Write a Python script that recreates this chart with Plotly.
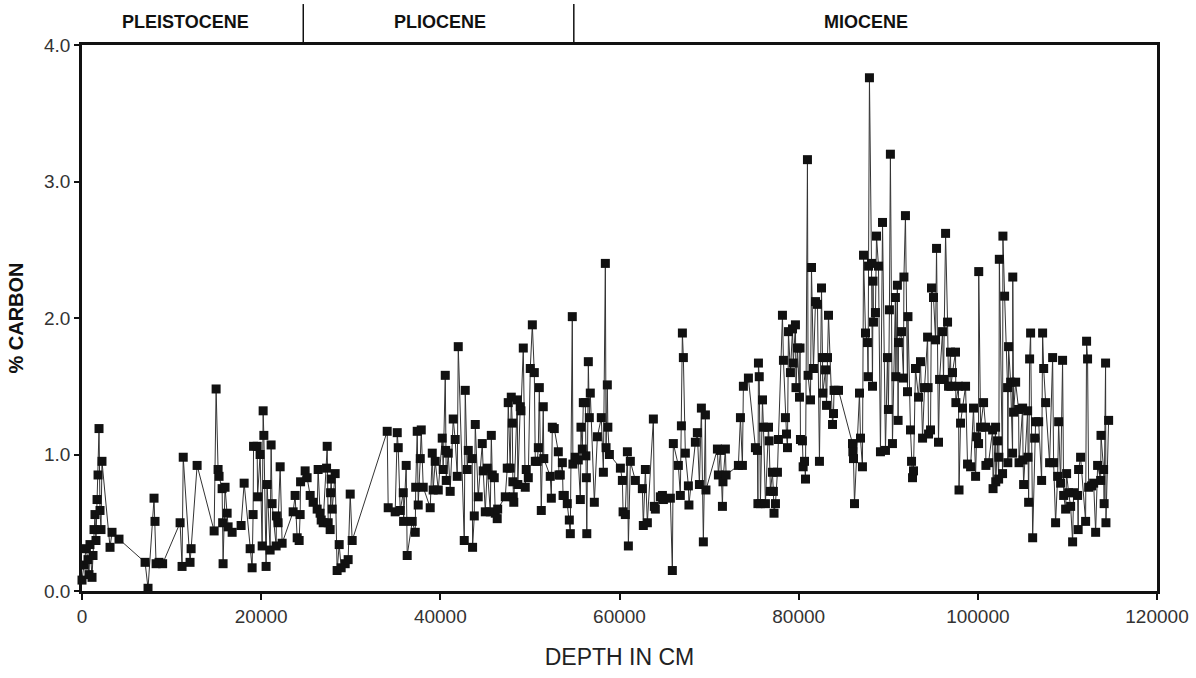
import plotly.graph_objects as go
import numpy as np

# Depth (cm) and % carbon
depth_cm = [
    0, 220, 450, 670, 780, 890, 1120, 1230, 1340, 1450, 1560, 1680, 1790, 1900, 2010, 2120, 2230,
    3130, 3350, 4130, 7040, 7370, 8040, 8150, 8270, 8600, 9000, 10950, 11170, 11300, 12060, 12180,
    12850, 14750, 14970, 15190, 15300, 15640, 15700, 15750, 15970, 16200, 16310, 16760, 17760,
    18100, 18770, 18990, 19100, 19150, 19550, 19600, 19880, 20110, 20220, 20300, 20550, 20660,
    21000, 21110, 21220, 21670, 21700, 21890, 22120, 22340, 23570, 23790, 24020, 24240, 24350,
    24400, 24910, 25130, 25470, 25800, 26250, 26360, 26580, 26700, 26920, 27300, 27370, 27480,
    27700, 27750, 27810, 27930, 28260, 28480, 28710, 28930, 29380, 29710, 29940, 30160,
    34070, 34180, 34960, 35190, 35300, 35520, 35860, 35900, 36190, 36300, 36860, 37200, 37250,
    37420, 37530, 37760, 37870, 38090, 38870, 39100, 39200, 39430, 39770, 40210, 40320, 40550,
    40600, 40660, 40880, 41100, 41440, 41660, 41890, 42000, 42670, 42780, 43000, 43120, 43560,
    43600, 43790, 43900, 44230, 44680, 44790, 45020, 45240, 45580, 45690, 45800, 46020, 46130,
    46350, 46400, 47250, 47470, 47580, 47800, 47920, 48030, 48100, 48140, 48200, 48590, 48650,
    48920, 49000, 49260, 49480, 49590, 49820, 50040, 50270, 50490, 50600, 50820, 50940, 51050,
    51270, 51490, 51550, 52270, 52390, 52500, 52720, 53170, 53250, 53390, 53620, 53700, 53840,
    54170, 54400, 54510, 54730, 54800, 55060, 55400, 55630, 55700, 55850, 55960, 56190, 56250,
    56300, 56350, 56520, 56630, 56740, 57190, 57530, 57970, 58200, 58420, 58500, 58640, 58700,
    58870, 60100, 60320, 60400, 60650, 60880, 60990, 61210, 61770, 62550, 62660, 62890, 63110,
    63780, 63890, 64000, 64560, 64790, 64900, 65680, 65900, 66010, 66570, 66790, 66910, 67020,
    67130, 67350, 67690, 67750, 68470, 68690, 68920, 69140, 69360, 69590, 69650, 70930, 71040,
    71270, 71490, 71550, 71820, 71900, 73270, 73500, 73720, 73830, 74390, 75170, 75400, 75450,
    75510, 75600, 75730, 75960, 76070, 76290, 76630, 76700, 76850, 77070, 77180, 77250, 77410,
    77630, 77740, 78190, 78300, 78520, 78640, 78750, 78860, 79080, 79310, 79400, 79640, 79700,
    79870, 80090, 80150, 80200, 80420, 80500, 80650, 80760, 80980, 81050, 81320, 81430, 81650,
    81880, 82100, 82320, 82550, 82660, 82700, 83000, 83110, 83220, 83330, 83780, 83890, 83950,
    84110, 84450, 86010, 86050, 86120, 86230, 86790, 86900, 87120, 87240, 87460, 87680, 87750,
    87800, 87900, 88130, 88240, 88300, 88350, 88570, 88690, 88910, 89130, 89360, 89690, 89910,
    90020, 90130, 90240, 90470, 90800, 90850, 91020, 91100, 91140, 91480, 91700, 91750, 91920,
    92150, 92200, 92480, 92600, 92710, 92820, 93040, 93380, 93600, 93830, 94050, 94390, 94450,
    94500, 94720, 94830, 95050, 95280, 95390, 95610, 95730, 96060, 96170, 96400, 96620, 96730,
    96950, 97000, 97170, 97510, 97550, 97840, 97900, 98070, 98290, 98630, 98850, 99190, 99520,
    99750, 99860, 100080, 100100, 100310, 100640, 100870, 100900, 101200, 101650, 101700, 101980,
    102000, 102200, 102320, 102350, 102400, 102760, 102800, 102990, 103320, 103350, 103430,
    103660, 103880, 103900, 103990, 104220, 104550, 104600, 105000, 105050, 105110, 105560,
    105600, 105670, 105780, 105890, 106120, 106340, 106450, 106790, 107120, 107230, 107350,
    107570, 108010, 108350, 108460, 108680, 108910, 109020, 109240, 109460, 109580, 109800,
    109910, 110130, 110360, 110580, 110690, 111140, 111200, 111250, 111470, 112030, 112140,
    112250, 112370, 112700, 112930, 113150, 113370, 113710, 113750, 114040, 114100, 114260,
    114300, 114600,
]
carbon_pct = [
    0.08, 0.19, 0.31, 0.23, 0.12, 0.34, 0.10, 0.26, 0.45, 0.56, 0.37, 0.67, 0.85, 1.19, 0.59, 0.45, 0.95,
    0.32, 0.43, 0.38, 0.21, 0.02, 0.68, 0.51, 0.20, 0.21, 0.20, 0.50, 0.18, 0.98, 0.21, 0.31,
    0.92, 0.44, 1.48, 0.89, 0.84, 0.75, 0.50, 0.20, 0.76, 0.57, 0.47, 0.43, 0.48,
    0.79, 0.31, 0.17, 0.56, 1.06, 1.06, 0.69, 1.00, 0.33, 1.32, 1.14, 0.18, 0.78,
    0.30, 1.07, 0.64, 0.33, 0.55, 0.50, 0.91, 0.35, 0.58, 0.70, 0.39, 0.37, 0.56,
    0.80, 0.88, 0.83, 0.70, 0.65, 0.60, 0.89, 0.57, 0.52, 0.50, 0.90, 1.06, 0.50,
    0.45, 0.72, 0.82, 0.60, 0.86, 0.15, 0.34, 0.17, 0.20, 0.23, 0.71, 0.37,
    1.17, 0.61, 0.58, 1.16, 1.05, 0.59, 0.72, 0.51, 0.92, 0.26, 0.51, 0.43, 0.76,
    1.17, 0.63, 0.97, 1.18, 0.76, 0.61, 1.01, 0.74, 0.95, 0.74, 1.12, 0.89, 1.58,
    1.03, 0.81, 1.01, 0.73, 1.26, 1.11, 0.84, 1.79, 0.37, 1.47, 0.89, 1.03, 0.97,
    0.32, 0.55, 1.22, 0.69, 1.08, 0.88, 0.58, 0.90, 0.58, 1.14, 0.85, 0.83, 0.57,
    0.53, 0.60, 0.69, 0.90, 1.38, 0.90, 1.42, 1.23, 0.80, 0.69, 0.65, 1.40, 0.78,
    1.35, 1.32, 1.78, 0.76, 0.89, 0.83, 1.63, 1.95, 1.60, 0.95, 0.95, 1.05, 1.49,
    0.59, 1.35, 0.97, 0.84, 0.68, 1.20, 1.19, 1.02, 0.85, 0.85, 0.94, 0.70, 0.70,
    0.64, 0.52, 0.42, 2.01, 0.93, 0.98, 0.96, 0.67, 1.20, 1.04, 1.38, 1.38, 0.99,
    0.83, 0.42, 1.68, 1.27, 1.45, 0.65, 1.13, 1.27, 0.87, 2.40, 1.05, 1.51, 1.20,
    1.00, 0.90, 0.81, 0.58, 0.56, 1.02, 0.33, 0.95, 0.81, 0.75, 0.48, 0.89, 0.50,
    1.26, 0.62, 0.60, 0.69, 0.70, 0.67, 0.68, 0.15, 1.08, 0.92, 0.70, 1.21, 1.89,
    1.71, 1.01, 0.77, 0.63, 1.09, 1.16, 0.78, 1.34, 0.36, 1.29, 0.74, 1.04, 0.85,
    1.03, 0.62, 0.80, 1.04, 0.85, 0.92, 1.27, 0.92, 1.50, 1.56, 1.05, 1.03, 0.64,
    1.67, 1.57, 0.64, 1.40, 1.20, 0.64, 1.20, 1.10, 0.73, 0.87, 0.73, 0.57, 0.64,
    0.87, 1.11, 2.02, 1.69, 1.27, 1.15, 1.05, 1.90, 1.60, 1.92, 1.67, 1.95, 1.49,
    1.78, 1.42, 1.78, 1.11, 1.10, 0.91, 0.95, 0.82, 3.16, 1.58, 1.40, 2.37, 1.63,
    2.12, 2.10, 0.95, 2.22, 1.71, 1.45, 1.62, 1.36, 1.71, 2.02, 1.22, 1.30, 1.47,
    1.47, 1.47, 1.08, 1.02, 0.97, 0.64, 1.45, 1.12, 0.91, 2.46, 1.89, 1.82, 1.57,
    2.38, 3.76, 2.40, 1.50, 2.27, 1.97, 2.04, 2.60, 2.38, 1.02, 2.70, 1.03, 1.71,
    1.33, 2.06, 3.20, 1.08, 2.15, 1.57, 2.24, 1.25, 1.82, 1.90, 1.56, 2.30, 2.75,
    1.46, 2.01, 1.18, 0.95, 0.83, 0.88, 1.63, 1.42, 1.68, 1.12, 1.49, 1.86, 1.49,
    1.15, 1.18, 2.22, 2.15, 1.84, 2.51, 1.09, 1.55, 1.90, 1.55, 2.62, 1.97, 1.50,
    1.75, 1.50, 1.60, 1.75, 1.38, 1.50, 0.74, 1.23, 1.34, 1.50, 0.93, 0.91, 1.34,
    0.84, 1.13, 1.08, 2.34, 1.20, 1.38, 1.20, 0.92, 0.94, 1.18, 0.75, 1.20,
    0.80, 1.10, 0.82, 0.98, 2.43, 0.86, 2.60, 2.16, 1.49, 0.94, 1.79,
    1.53, 1.01, 2.30, 1.31, 1.53, 1.33, 0.94, 1.34, 0.96, 0.78, 1.32,
    0.98, 0.65, 1.70, 1.89, 0.39, 1.12, 1.24, 1.24, 0.81, 1.89, 1.63,
    1.38, 0.94, 1.71, 0.94, 0.50, 0.84, 1.24, 0.79, 1.69, 0.70, 0.60,
    0.86, 0.72, 0.62, 0.36, 0.72, 0.70, 0.45, 0.89, 0.98, 0.51, 1.83,
    1.70, 0.76, 0.77, 0.79, 0.43, 0.92, 0.81, 1.14, 0.89, 0.64, 1.67,
    0.50, 1.25,
]

epochs = ["PLEISTOCENE", "PLIOCENE", "MIOCENE"]
epoch_label_x = [11600, 40000, 87500]
epoch_boundaries = [24700, 54900]

x_ticks = [0, 20000, 40000, 60000, 80000, 100000, 120000]
y_ticks = [0.0, 1.0, 2.0, 3.0, 4.0]

order = np.argsort(np.array(depth_cm), kind="stable")
xs = np.array(depth_cm)[order]
ys = np.array(carbon_pct)[order]

fig = go.Figure()
fig.add_trace(go.Scatter(
    x=xs, y=ys, mode="lines+markers",
    line=dict(color="#333333", width=1),
    marker=dict(symbol="square", size=9, color="#111111", line=dict(width=0)),
    cliponaxis=False, showlegend=False,
))

narrow = "Liberation Sans Narrow, Liberation Sans, Arial"
tick_font = dict(family=narrow, size=19, color="#333333")

fig.update_layout(
    width=1196, height=678,
    margin=dict(l=82, r=39, t=45, b=87),
    plot_bgcolor="white", paper_bgcolor="white",
    xaxis=dict(
        range=[0, 120000], tickvals=x_ticks, ticktext=[str(v) for v in x_ticks],
        showline=True, linecolor="#111111", linewidth=2.5, mirror=True,
        ticks="outside", ticklen=6, tickwidth=1.5, tickcolor="#111111",
        showgrid=False, zeroline=False, tickfont=tick_font, automargin=False,
        title=dict(text="DEPTH IN CM", font=dict(family=narrow, size=23, color="#222222"), standoff=24),
    ),
    yaxis=dict(
        range=[0, 4], tickvals=y_ticks, ticktext=[f"{v:.1f}" for v in y_ticks],
        showline=True, linecolor="#111111", linewidth=2.5, mirror=True,
        ticks="outside", ticklen=5, tickwidth=1.5, tickcolor="#111111",
        showgrid=False, zeroline=False, tickfont=tick_font, automargin=False,
        title=dict(text="<b>% CARBON</b>", font=dict(family="Liberation Sans, Arial", size=20, color="#111111"), standoff=16),
    ),
)

for name, xc in zip(epochs, epoch_label_x):
    fig.add_annotation(x=xc, y=1.042, xref="x", yref="paper", yanchor="middle", text=f"<b>{name}</b>",
                       showarrow=False, font=dict(family="Liberation Sans, Arial", size=18, color="#111111"))
for xb in epoch_boundaries:
    fig.add_shape(type="line", x0=xb, x1=xb, y0=1.0, y1=1.075, xref="x", yref="paper",
                  line=dict(color="#111111", width=1.5))

fig.write_html("out.html")
